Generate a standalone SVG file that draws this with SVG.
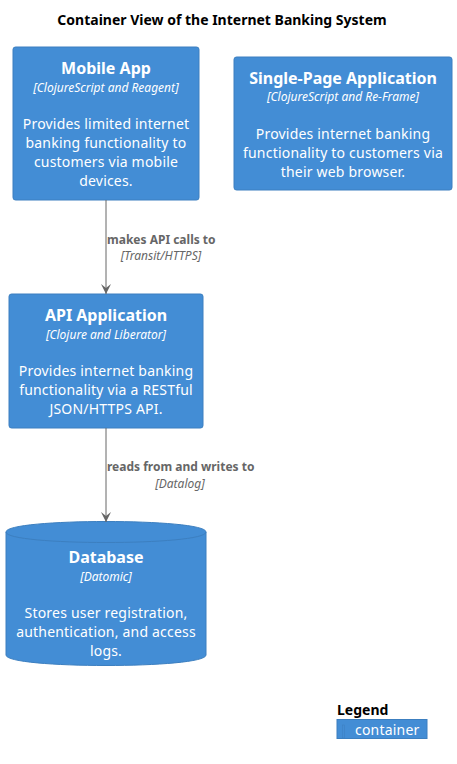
<svg xmlns="http://www.w3.org/2000/svg" width="457" height="764" viewBox="0 0 457 764">
<defs>
<style>
text{font-family:"Noto Sans","Open Sans","DejaVu Sans",sans-serif}
.box{fill:#438DD5;stroke:#3C7FC0;stroke-width:1}
.t{fill:#FFFFFF;font-size:16px;font-weight:bold;text-anchor:middle}
.tech{fill:#FFFFFF;font-size:12px;font-style:italic;text-anchor:middle}
.d{fill:#FFFFFF;font-size:14px;letter-spacing:0.2px;text-anchor:middle}
.rel{stroke:#666666;stroke-width:1;fill:none}
.rl{fill:#666666;font-size:12px;font-weight:bold}
.rt{fill:#666666;font-size:12px;font-style:italic;text-anchor:middle}
</style>
<marker id="arr" viewBox="0 0 10 10" refX="10" refY="5" markerWidth="10" markerHeight="10" markerUnits="userSpaceOnUse" orient="auto">
<path d="M0,0 L10,5 L0,10 L4,5 Z" fill="#666666"/>
</marker>
</defs>
<rect width="457" height="764" fill="#FFFFFF"/>
<text x="222" y="25" font-size="14" font-weight="bold" text-anchor="middle" fill="#000000">Container View of the Internet Banking System</text>

<g id="mobile">
<rect class="box" x="13" y="47" width="186" height="153" rx="2.5"/>
<text class="t" x="106" y="74">Mobile App</text>
<text class="tech" x="106" y="92">[ClojureScript and Reagent]</text>
<text class="d" x="106" y="129">Provides limited internet</text>
<text class="d" x="106" y="148">banking functionality to</text>
<text class="d" x="106" y="167">customers via mobile</text>
<text class="d" x="106" y="186">devices.</text>
</g>

<g id="spa">
<rect class="box" x="234" y="57" width="218" height="133" rx="2.5"/>
<text class="t" x="343" y="84">Single-Page Application</text>
<text class="tech" x="343" y="101">[ClojureScript and Re-Frame]</text>
<text class="d" x="343" y="139">Provides internet banking</text>
<text class="d" x="343" y="158">functionality to customers via</text>
<text class="d" x="343" y="177">their web browser.</text>
</g>

<g id="api">
<rect class="box" x="9" y="294" width="194" height="134" rx="2.5"/>
<text class="t" x="106" y="321">API Application</text>
<text class="tech" x="106" y="339">[Clojure and Liberator]</text>
<text class="d" x="106" y="376">Provides internet banking</text>
<text class="d" x="106" y="395">functionality via a RESTful</text>
<text class="d" x="106" y="414">JSON/HTTPS API.</text>
</g>

<g id="database">
<path class="box" d="M6,532 C6,518 206,518 206,532 L206,655 C206,669 6,669 6,655 Z"/>
<path d="M6,532 C6,546 206,546 206,532" fill="none" stroke="#3C7FC0" stroke-width="1"/>
<text class="t" x="106" y="563">Database</text>
<text class="tech" x="106" y="581">[Datomic]</text>
<text class="d" x="106" y="618">Stores user registration,</text>
<text class="d" x="106" y="637">authentication, and access</text>
<text class="d" x="106" y="656">logs.</text>
</g>

<g id="connectors">
<line class="rel" x1="106" y1="200" x2="106" y2="294" marker-end="url(#arr)"/>
<text class="rl" x="107" y="243.5">makes API calls to</text>
<text class="rt" x="161" y="260">[Transit/HTTPS]</text>
<line class="rel" x1="106" y1="428" x2="106" y2="522" marker-end="url(#arr)"/>
<text class="rl" x="107" y="471">reads from and writes to</text>
<text class="rt" x="180" y="487.5">[Datalog]</text>
</g>

<g id="legend">
<text x="337" y="715" font-size="14" font-weight="bold" fill="#000000">Legend</text>
<rect x="337" y="719.5" width="90" height="19" fill="#438DD5" stroke="#3C7FC0" stroke-width="1"/>
<rect x="342.5" y="725" width="2" height="13" fill="none" stroke="#3C7FC0" stroke-width="0.5"/>
<text x="355" y="735" font-size="14" letter-spacing="0.2" fill="#FFFFFF">container</text>
</g>
</svg>
